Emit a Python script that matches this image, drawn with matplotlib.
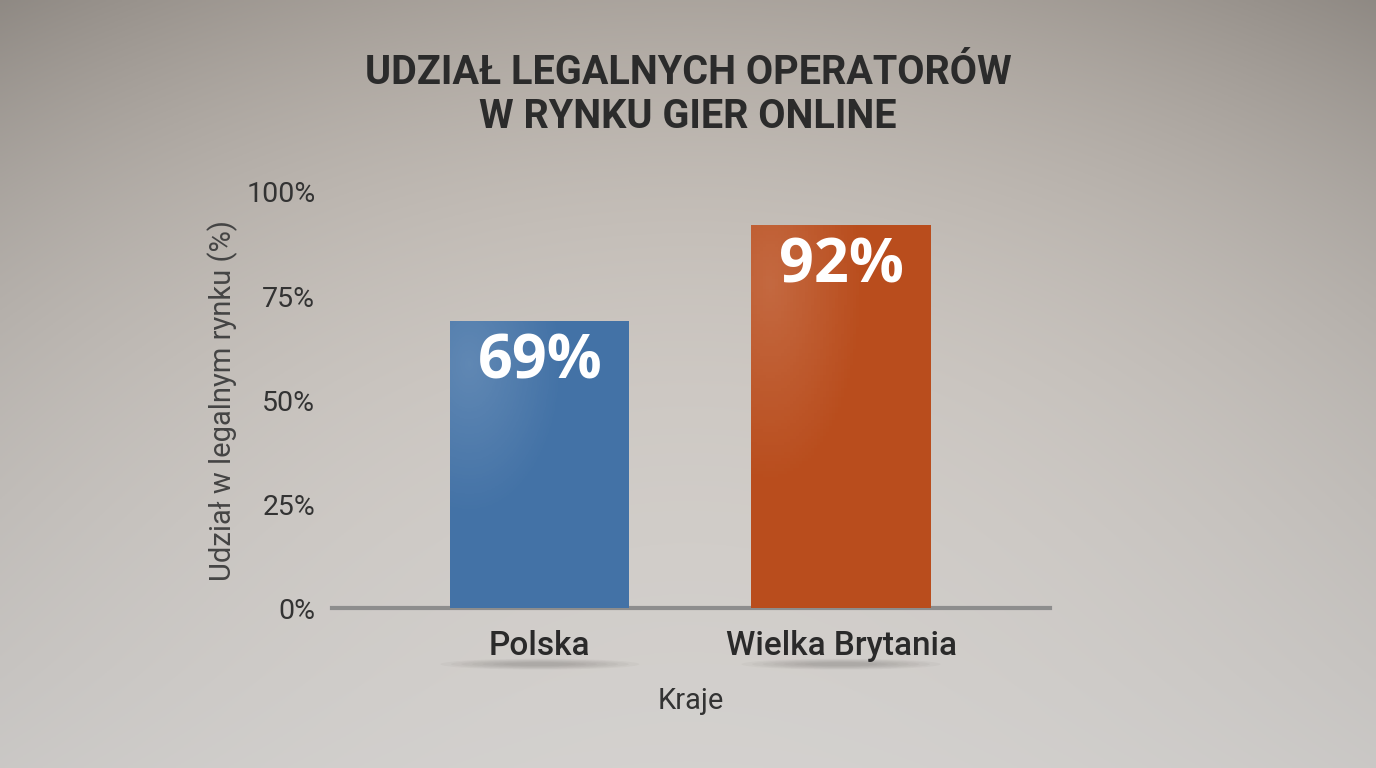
import numpy as np
import matplotlib.pyplot as plt
from matplotlib.patches import Ellipse

# data
countries = ["Polska", "Wielka Brytania"]
shares = [69, 92]
bar_colors = ["#4372a6", "#b94d1d"]
y_ticks = [0, 25, 50, 75, 100]

title = "UDZIAŁ LEGALNYCH OPERATORÓW\nW RYNKU GIER ONLINE"
y_label = "Udział w legalnym rynku (%)"
x_label = "Kraje"

fig = plt.figure(figsize=(13.76, 7.68), dpi=100)

# soft studio background (vignette)
bg = fig.add_axes([0, 0, 1, 1], zorder=-10)
yy, xx = np.mgrid[0:1:300j, 0:1:540j]
top = np.array([0.76, 0.73, 0.70])
bottom = np.array([0.85, 0.84, 0.83])
base = top[None, None, :] * (1 - yy[..., None]) + bottom[None, None, :] * yy[..., None]
r2 = ((xx - 0.5) / 0.62) ** 2 + ((yy - 0.55) / 0.75) ** 2
shade = 1 - 0.22 * np.clip(r2, 0, 2) * (1 - 0.7 * yy)
img = np.clip(base * shade[..., None], 0, 1)
bg.imshow(img, extent=[0, 1, 0, 1], aspect="auto", origin="upper")
bg.set_axis_off()

ax = fig.add_axes([0.2413, 0.2083, 0.5218, 0.5417])
ax.patch.set_alpha(0)

x = np.arange(len(countries))
bars = ax.bar(x, shares, width=0.595, color=bar_colors, zorder=3,
              edgecolor="none")

# light gradient overlay on each bar
for b in bars:
    gx, gy = np.meshgrid(np.linspace(0, 1, 60), np.linspace(1, 0, 120))
    glow = np.clip(0.16 - 0.3 * np.hypot(gx - 0.1, gy - 0.85), 0, 1)
    overlay = np.zeros((120, 60, 4))
    overlay[..., :3] = 1
    overlay[..., 3] = glow
    im = ax.imshow(overlay, extent=[b.get_x(), b.get_x() + b.get_width(), 0, b.get_height()],
                   aspect="auto", zorder=4)
    im.set_clip_path(b)

for xi, v in zip(x, shares):
    ax.annotate(f"{v}%", (xi, v), xytext=(0, -30), textcoords="offset points",
                ha="center", va="center", color="white", fontsize=44,
                fontweight="bold", family="Open Sans", zorder=5)

ax.set_xlim(-0.69, 1.694)
ax.set_ylim(0, 100)
ax.set_yticks(y_ticks)
ax.set_yticklabels([f"{t}%" for t in y_ticks], fontsize=20.5, color="#333333",
                   family="Roboto")
ax.set_xticks(x)
ax.set_xticklabels(countries, fontsize=24, color="#2a2a2a", family="Roboto",
                   fontweight="medium")
ax.tick_params(axis="both", length=0)
ax.tick_params(axis="y", pad=12)
ax.tick_params(axis="x", pad=16)

for s in ["top", "right", "left"]:
    ax.spines[s].set_visible(False)
ax.spines["bottom"].set_color("#8d8d8d")
ax.spines["bottom"].set_linewidth(3)
ax.spines["bottom"].set_zorder(2)

ax.set_ylabel(y_label, fontsize=21, color="#444444", family="Roboto", labelpad=6)
ax.set_xlabel(x_label, fontsize=21, color="#333333", family="Roboto", labelpad=18)

# soft shadows under the category labels
for xi in x:
    for k in range(7):
        e = Ellipse((xi, -13.5), 0.66 - k * 0.07, 2.6 - k * 0.3, color="#6e6a66",
                    alpha=0.06, clip_on=False, zorder=1, lw=0)
        ax.add_patch(e)

fig.text(0.5, 0.876, title, ha="center", va="center", fontsize=28.5,
         fontweight="bold", color="#2b2b2b", family="Roboto", linespacing=1.2)

fig.savefig("out.png", dpi=100)
